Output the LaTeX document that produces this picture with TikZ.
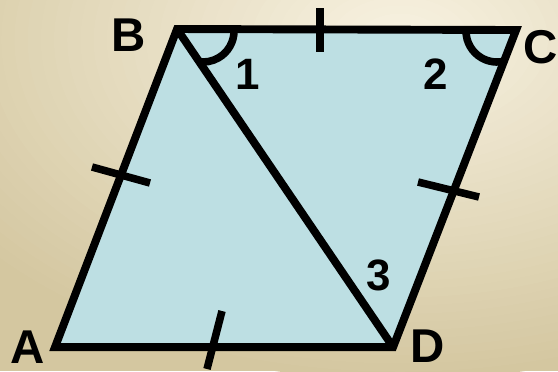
\documentclass[tikz,border=0pt]{standalone}
\usepackage{fontspec}
\setmainfont{Liberation Sans}
\usetikzlibrary{calc}

\definecolor{rhombfill}{RGB}{189,223,227}
\definecolor{bglight}{RGB}{247,241,224}
\definecolor{bgdark}{RGB}{212,199,160}

\begin{document}
\begin{tikzpicture}[xscale=0.02, yscale=-0.02,
  side/.style={line width=4.5pt, line join=miter},
  tickmark/.style={line width=4.3pt},
  vlabel/.style={font=\bfseries\fontsize{27}{30}\selectfont, inner sep=0pt},
  alabel/.style={font=\bfseries\fontsize{25}{28}\selectfont, inner sep=0pt}]
 % Background
 \useasboundingbox (0,0) rectangle (558,371);
 \begin{scope}
  \clip (0,0) rectangle (558,371);
  \fill[bgdark] (0,0) rectangle (558,371);
  \foreach \k in {0,...,40} {
   \pgfmathsetmacro\rr{340-8.25*\k}
   \pgfmathsetmacro\pc{100-2.5*\k}
   \fill[bgdark!\pc!bglight] (400,40) ellipse ({1.6*\rr} and \rr);
  }
 \end{scope}

 % Vertices
 \coordinate (A) at (55,347);
 \coordinate (B) at (177,29);
 \coordinate (C) at (516,30);
 \coordinate (D) at (393,347);

 % Rhombus and diagonal
 \filldraw[side, fill=rhombfill] (A) -- (B) -- (C) -- (D) -- cycle;
 \draw[side] (B) -- (D);

 % Angle marks
 \draw[tickmark] (234,31) arc[start angle=0, end angle=100, radius=31];
 \draw[tickmark] (466,31) arc[start angle=180, end angle=75, radius=31];

 % Equal sides
 \draw[tickmark] (320,8) -- (320,52);
 \draw[tickmark] (92,167) -- (150,183);
 \draw[tickmark] (418,182) -- (479,197);
 \draw[tickmark] (222,311) -- (207,369);

 % Labels
 \node[vlabel] (labA) at (28,347) {A};
 \node[vlabel] (labB) at (129,35) {B};
 \node[vlabel] (labC) at (541,47) {C};
 \node[vlabel] (labD) at (428,346) {D};
 \node[alabel] (ang1) at (248,74) {1};
 \node[alabel] (ang2) at (436,74) {2};
 \node[alabel] (ang3) at (379,275) {3};
\end{tikzpicture}
\end{document}
